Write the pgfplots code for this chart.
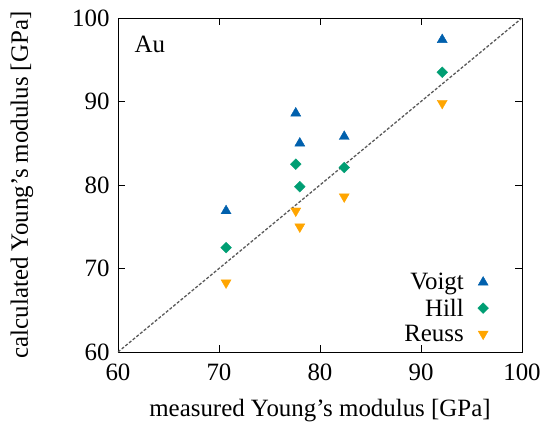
\documentclass[border=0pt]{standalone}
\usepackage{fontspec}
\setmainfont{Liberation Serif}
\usepackage{pgfplots}
\pgfplotsset{compat=1.18}

\definecolor{voigt}{RGB}{0,96,173}
\definecolor{hill}{RGB}{0,158,115}
\definecolor{reuss}{RGB}{255,165,0}

\begin{document}
\begin{tikzpicture}
  \path[use as bounding box] (-118bp,-78bp) rectangle (429bp,352bp);
  \begin{axis}[
      scale only axis, width=404bp, height=334bp,
      anchor=south west, at={(0,0)},
      xmin=60, xmax=100, ymin=60, ymax=100,
      xtick={60,70,80,90,100}, ytick={60,70,80,90,100},
      tick align=inside, major tick length=7bp,
      axis line style={line width=0.9pt},
      every tick/.style={black, line width=0.8pt},
      font=\fontsize{25}{29}\selectfont,
      /pgf/number format/assume math mode=true,
      xticklabel style={yshift=-8bp},
      yticklabel style={xshift=-5bp},
      xlabel={measured Young's modulus [GPa]},
      ylabel={calculated Young's modulus [GPa]},
      xlabel style={at={(axis description cs:0.5,-0.174)}, anchor=center},
      ylabel style={at={(axis description cs:-0.238,0.5)}, anchor=center},
      legend style={draw=none, fill=none, at={(rel axis cs:0.925,0.015)}, anchor=south east,
        row sep=3.5pt, column sep=12bp, font=\fontsize{25}{29}\selectfont},
      legend cell align=right,
      legend plot pos=right,
    ]
    \addplot[black!65, line width=1.3pt, dash pattern=on 3pt off 1.8pt, forget plot]
      coordinates {(60,60) (100,100)};
    % Voigt
    \addplot[only marks, mark=triangle*, mark size=5.8pt, color=voigt] coordinates {
      (70.7,76.9) (77.6,88.6) (78.0,85.0) (82.4,85.8) (92.1,97.4)
    };
    \addlegendentry{Voigt}
    % Hill
    \addplot[only marks, mark=square*, mark size=3.8pt, mark options={rotate=45}, color=hill] coordinates {
      (70.7,72.5) (77.6,82.5) (78.0,79.8) (82.4,82.1) (92.1,93.5)
    };
    \addlegendentry{Hill}
    % Reuss
    \addplot[only marks, mark=triangle*, mark size=5.8pt, mark options={rotate=180}, color=reuss] coordinates {
      (70.7,68.3) (77.6,76.9) (78.0,75.0) (82.4,78.6) (92.1,89.8)
    };
    \addlegendentry{Reuss}
    \node[anchor=west, font=\fontsize{25}{29}\selectfont] at (axis cs:61.3,96.8) {Au};
  \end{axis}
\end{tikzpicture}
\end{document}
